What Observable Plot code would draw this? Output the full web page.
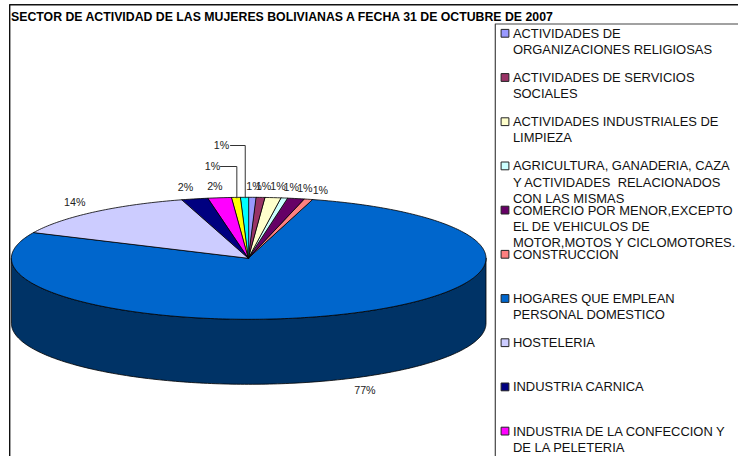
<!DOCTYPE html>
<html><head><meta charset="utf-8">
<script src="https://cdn.jsdelivr.net/npm/d3@7"></script>
<script src="https://cdn.jsdelivr.net/npm/@observablehq/plot@0.6"></script>
<style>html,body{margin:0;padding:0;background:#fff}svg{display:block}</style>
</head><body><div id="chart"></div>
<script>
// Data (share of total, %), clockwise from 12 o'clock
const categories = [
  "ACTIVIDADES DE\nORGANIZACIONES RELIGIOSAS",
  "ACTIVIDADES DE SERVICIOS\nSOCIALES",
  "ACTIVIDADES INDUSTRIALES DE\nLIMPIEZA",
  "AGRICULTURA, GANADERIA, CAZA\nY ACTIVIDADES  RELACIONADOS\nCON LAS MISMAS",
  "COMERCIO POR MENOR,EXCEPTO\nEL DE VEHICULOS DE\nMOTOR,MOTOS Y CICLOMOTORES.",
  "CONSTRUCCION",
  "HOGARES QUE EMPLEAN\nPERSONAL DOMESTICO",
  "HOSTELERIA",
  "INDUSTRIA CARNICA",
  "INDUSTRIA DE LA CONFECCION Y\nDE LA PELETERIA",
  "(fuera de la leyenda 1)",
  "(fuera de la leyenda 2)"
];
const shares = [0.52, 0.60, 1.08, 0.45, 1.14, 0.58, 77.6, 13.5, 1.8, 1.6, 0.6, 0.53];
const valueLabels = ["1%","1%","1%","1%","1%","1%","77%","14%","2%","2%","1%","1%"];
const colors = ["#9999FF","#993366","#FFFFCC","#CCFFFF","#660066","#FF8080","#0066CC","#CCCCFF","#000080","#FF00FF","#FFFF00","#00FFFF"];
const legendCount = 10;
const sideColor = "#003366";

// Layout (pixels)
const cx = 248.7, rx = 237.3, cy = 258.3, ry = 61, depth = 65;
const ux = px => (px - cx) / rx;
const uy = py => (cy - py) / ry;
const labelNudge = [[1,-11],[2,-11],[4,-12],[6,-11],[8,-10],[11,-9],[17,76],[-20,-10],[-10,-11.5],[-5.6,-11.4]];
const leaders = {10: {y: 166, end: 220, text: 212}, 11: {y: 145, end: 230, text: 221}};

const total = d3.sum(shares);
const cum = d3.cumsum(shares);
const deg = d => d * Math.PI / 180;
const slices = categories.map((c, i) => {
  const a0 = (i ? cum[i-1] : 0) / total * 360, a1 = cum[i] / total * 360;
  return {c, i, a0, a1, mid: (a0 + a1) / 2};
});
const rim = a => [Math.sin(deg(a)), Math.cos(deg(a))];

const wedges = slices.flatMap(s => {
  const n = Math.max(2, Math.ceil(s.a1 - s.a0) + 1);
  return d3.range(n).map(k => {
    const a = s.a0 + (s.a1 - s.a0) * k / (n - 1);
    const [x, y] = rim(a);
    return {c: s.c, x1: 0, y1: 0, x2: x, y2: y};
  });
});
const side = d3.range(90, 271).map(a => {
  const [x, y] = rim(a);
  return {x, y1: y, y2: y - depth / ry};
});

const labels = slices.map(s => {
  const [x, y] = rim(s.mid);
  const px = cx + rx * x, py = cy - ry * y;
  if (leaders[s.i]) return {t: valueLabels[s.i], x: ux(leaders[s.i].text), y: uy(leaders[s.i].y)};
  const [dx, dy] = labelNudge[s.i];
  return {t: valueLabels[s.i], x: ux(px + dx), y: uy(py + dy)};
});
const leaderLines = slices.filter(s => leaders[s.i]).flatMap(s => {
  const [x, y] = rim(s.mid), l = leaders[s.i];
  return [{i: s.i, x, y}, {i: s.i, x, y: uy(l.y)}, {i: s.i, x: ux(l.end), y: uy(l.y)}];
});

const legendX = ux(504.5), legendTextX = ux(512.4);
const legend = slices.slice(0, legendCount).map(s => ({c: s.c, y: uy(32.8 + 44.2 * s.i), yText: uy(32.8 + 44.2 * s.i - 7)}));

// Frame lines
const frame = [
  {k: "outer", x: ux(9.2), y: uy(456)}, {k: "outer", x: ux(9.2), y: uy(4.3)}, {k: "outer", x: ux(738), y: uy(4.3)}
];
const legendBox = [
  {k: "box", x: ux(494.8), y: uy(456)}, {k: "box", x: ux(494.8), y: uy(23.5)}, {k: "box", x: ux(738), y: uy(23.5)}
];

const font = "'Liberation Sans', Arial, sans-serif";
const plot = Plot.plot({
  width: 738, height: 456,
  marginTop: 0, marginRight: 0, marginBottom: 0, marginLeft: 0,
  x: {domain: [-1, 1], range: [cx - rx, cx + rx], axis: null},
  y: {domain: [-1, 1], range: [cy + ry, cy - ry], axis: null},
  color: {type: "categorical", domain: categories, range: colors},
  style: {fontFamily: font, background: "#fff", overflow: "visible"},
  marks: [
    Plot.line(frame, {x: "x", y: "y", z: "k", stroke: "#111", strokeWidth: 1.4, curve: "linear"}),
    Plot.line(legendBox, {x: "x", y: "y", z: "k", stroke: "#444", strokeWidth: 1.2, curve: "linear"}),
    // pie
    Plot.area(side, {x1: "x", y1: "y1", x2: "x", y2: "y2", fill: sideColor, stroke: "#000", strokeWidth: 0.8}),
    Plot.area(wedges, {x1: "x1", y1: "y1", x2: "x2", y2: "y2", z: "c", fill: "c", stroke: "#000", strokeWidth: 0.8}),
    // leaders and value labels
    Plot.line(leaderLines, {x: "x", y: "y", z: "i", stroke: "#333", strokeWidth: 1, curve: "linear"}),
    Plot.text(labels, {x: "x", y: "y", text: "t", fontSize: 10.7, fill: "#222"}),
    // legend
    Plot.dot(legend, {x: () => legendX, y: "y", symbol: "square", r: 4.4, fill: "c", stroke: "#222", strokeWidth: 1}),
    Plot.text(legend, {x: () => legendTextX, y: "yText", text: "c", textAnchor: "start", lineAnchor: "top", fontSize: 12.95, lineHeight: 1.25, fill: "#111"}),
    // title
    Plot.text(["SECTOR DE ACTIVIDAD DE LAS MUJERES BOLIVIANAS A FECHA 31 DE OCTUBRE DE 2007"], {
      x: () => ux(10.5), y: () => uy(16.6), text: d => d, textAnchor: "start", fontSize: 12.3, fontWeight: "bold", fill: "#000"
    })
  ]
});
document.getElementById("chart").appendChild(plot);
</script></body></html>
